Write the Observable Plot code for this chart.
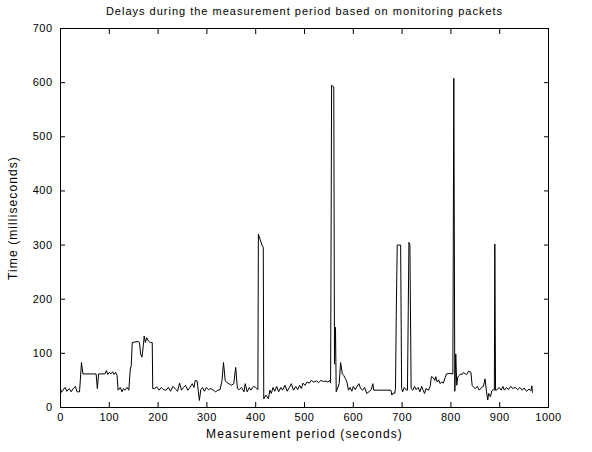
<!DOCTYPE html>
<html><head><meta charset="utf-8">
<script src="https://cdn.jsdelivr.net/npm/d3@7"></script>
<script src="https://cdn.jsdelivr.net/npm/@observablehq/plot@0.6"></script>
<style>body{margin:0;background:#fff} svg{display:block}</style>
</head><body><div id="chart"></div>
<script>
const seconds = [
  0,2,5,9.5,13,18,22,26,30.5,34,39,43,46,73,75.5,78,91,94,97,100,103.5,107,110,113,116,118,122.5,126,129,132,136.5,140,143,145,147,159,162,164,167,170,171.5,174,176.5,180,184,188,189,
  192,197.5,202,206.5,211,216.5,221,225.5,230.5,235.5,240,244,248,252,256,261,265,270,273.5,276,280,282.5,284.5,287.5,291,295,299,303.5,308,313,
  318,322.5,327,331,334,337.5,340,345,350,355,359,362.5,366,371,376,378.5,382.5,387,390,395.5,400,404.5,
  405.5,413,415.5,416.5,
  421,426,429,432,435.5,439,443,447,451.5,455,460,464.5,469,473,477.5,482,486,490,493.5,497,501,505,510,514,519,524.5,529,533.5,539,544,548,551.5,553.5,
  555.5,560,561.5,563.5,565,
  571,574,577.5,580.5,584,587,590,593.5,597,600,604,607,611.5,615,619,623,627.5,632,637,640,642,
  677,679,682,685,686.5,688,690,697,699,701,704.5,707.5,711,714,716,718.5,
  722,725.5,729,733,736.5,740,743,746,749,754,757.5,760,764,767,769,772,775,778,781,784.5,788,791,797.5,804,
  806,808,810,812,814,817,820,823,826,829.5,832.5,836,841,843.5,847,850,854,858,863,866.5,870,873,875.5,877.5,881,884,887,889,890,891.5,
  895,899,903,906.5,909.5,914,918,922.5,927,932,937,941.5,946,950,955,960,964,966,967
];
const delays = [
  35,28,32,37,30,35,29,35,39,29,29,83,62,62,35,62,62,68,61,65,62,66,61,65,59,32,37,29,35,32,37,32,71,77,120,122,120,99,93,117,132,120,129,123,120,120,35,
  35,38,32,37,33,32,37,30,39,34,30,45,32,37,41,32,37,44,37,50,49,29,13,33,37,30,37,33,35,32,
  29,32,33,50,83,50,47,44,41,44,74,35,33,37,29,44,29,37,32,39,37,33,
  320,300,296,16,
  23,16,32,26,37,30,39,29,37,32,41,30,37,44,32,39,33,41,35,45,41,47,45,50,47,49,46,50,48,49,47,50,45,
  595,592,80,148,29,
  44,83,62,59,53,47,32,37,30,39,33,38,44,35,32,37,26,29,33,44,32,
  32,23,27,26,35,170,300,300,35,29,37,33,32,305,300,35,
  32,39,33,37,29,39,32,26,35,32,39,57,55,50,57,47,51,44,47,45,55,62,63,62,
  608,30,99,41,56,59,62,61,65,62,61,67,65,41,37,35,39,32,37,39,53,29,14,26,20,31,33,32,302,32,
  33,37,32,39,32,37,33,39,35,37,33,37,32,36,30,34,31,40,28
];
const xTicks = [0,100,200,300,400,500,600,700,800,900,1000];
const yTicks = [0,100,200,300,400,500,600,700];
const titleText = "Delays during the measurement period based on monitoring packets";
const xLabel = "Measurement period (seconds)";
const yLabel = "Time (milliseconds)";

const data = seconds.map((s, i) => ({s, d: delays[i]}));
const noText = () => "";
const plain = d3.format("d");

const chart = Plot.plot({
  width: 592, height: 452,
  marginLeft: 60, marginRight: 44, marginTop: 28, marginBottom: 45,
  style: {fontFamily: "'Liberation Sans', Arial, sans-serif", fontSize: "11px", background: "white", color: "black"},
  x: {domain: [0, 1000]},
  y: {domain: [0, 700]},
  marks: [
    Plot.line(data, {x: "s", y: "d", stroke: "black", strokeWidth: 1}),
    Plot.frame({stroke: "black"}),
    Plot.axisX(xTicks, {anchor: "bottom", tickSize: -5, tickPadding: 11, tickFormat: plain, label: null}),
    Plot.axisX(xTicks, {anchor: "top", tickSize: -5, tickFormat: noText, label: null}),
    Plot.axisY(yTicks, {anchor: "left", tickSize: -5, tickPadding: 13, tickFormat: plain, label: null}),
    Plot.axisY(yTicks, {anchor: "right", tickSize: -5, tickFormat: noText, label: null}),
    Plot.text([xLabel], {text: d => d, frameAnchor: "bottom", dy: 30, fontSize: 12, className: "axis-title"}),
    Plot.text([yLabel], {text: d => d, frameAnchor: "left", textAnchor: "middle", lineAnchor: "middle", rotate: -90, dx: -47, fontSize: 12, className: "axis-title"}),
    Plot.text([titleText], {text: d => d, frameAnchor: "top", dy: -21, fontSize: 11, className: "main-title"})
  ]
});
d3.select(chart).selectAll("text").style("letter-spacing", "0.5px");
d3.select(chart).selectAll(".axis-title text").style("letter-spacing", "1.1px");
d3.select(chart).selectAll(".main-title text").style("letter-spacing", "1px");
document.getElementById("chart").appendChild(chart);
</script>
</body></html>
